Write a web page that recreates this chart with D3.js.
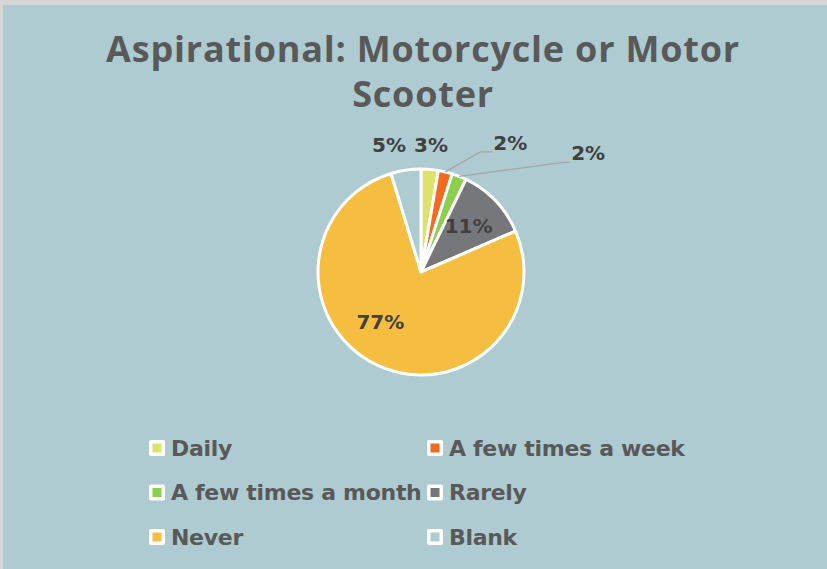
<!DOCTYPE html>
<html>
<head>
<meta charset="utf-8">
<script src="https://cdn.jsdelivr.net/npm/d3@7"></script>
<style>
  body { margin: 0; background: #d9d9d9; }
  svg { display: block; }
</style>
</head>
<body>
<svg id="chart"></svg>
<script>
// chart data
const categories = ['Daily', 'A few times a week', 'A few times a month', 'Rarely', 'Never', 'Blank'];
const shares = [2.7, 2.2, 2.3, 11.3, 76.8, 4.7];
const colors = ['#dde36a', '#f26b21', '#8ccf4d', '#76777b', '#f5be41', '#aecbd2'];
const titleLines = ['Aspirational: Motorcycle or Motor', 'Scooter'];

const W = 827, H = 569;
const bg = '#aecbd2';
const titleFont = '"Open Sans", Lato, sans-serif';
const font = '"DejaVu Sans", "Open Sans", sans-serif';

const svg = d3.select('#chart').attr('width', W).attr('height', H);

// tracking needed so a text spans a wanted width (the original font is wider)
function track(sel, want) {
  const node = sel.node();
  const n = node.getNumberOfChars();
  return (want - node.getComputedTextLength()) / (n - 1);
}

// frame: thin grey edge on top and left
svg.append('rect').attr('width', W).attr('height', H).attr('fill', '#d6d6d6');
svg.append('rect').attr('x', 3).attr('y', 5).attr('width', W).attr('height', H).attr('fill', bg);

// title
const title = svg.append('g')
  .attr('font-family', titleFont).attr('font-weight', 700).attr('font-size', 36)
  .attr('fill', '#595959')
  .attr('text-anchor', 'middle');
const t1 = title.append('text').attr('x', 423).attr('y', 62).text(titleLines[0]);
title.attr('letter-spacing', track(t1, 633));
title.append('text').attr('x', 423).attr('y', 107).text(titleLines[1]);

// pie
const cx = 421, cy = 272, r = 103;
const pie = d3.pie().sort(null).value(d => d.v);
const arc = d3.arc().innerRadius(0).outerRadius(r);
const data = categories.map((c, i) => ({ c: c, v: shares[i], col: colors[i] }));
const arcs = pie(data);

const g = svg.append('g').attr('transform', 'translate(' + cx + ',' + cy + ')');

g.selectAll('path')
  .data(arcs)
  .enter().append('path')
  .attr('d', arc)
  .attr('fill', d => d.data.col)
  .attr('stroke', '#fff')
  .attr('stroke-width', 3)
  .attr('stroke-linejoin', 'round');

// label placement (relative to pie centre / slice edge / centroid)
const place = {
  'Daily':               { mode: 'out', dx: 10, dy: -127 },
  'A few times a week':  { mode: 'lead', elbow: [35, -20], len: 12 },
  'A few times a month': { mode: 'lead', elbow: [104, -14], len: 7 },
  'Rarely':              { mode: 'in', k: 0.64, dx: 0, dy: 0 },
  'Never':               { mode: 'in', k: 0.64, dx: -13, dy: -10 },
  'Blank':               { mode: 'out', dx: -32, dy: -127 }
};

const pct = d => Math.round(d.data.v) + '%';
const edge = d => {
  const a = (d.startAngle + d.endAngle) / 2;
  return [r * Math.sin(a), -r * Math.cos(a)];
};

const labels = g.append('g')
  .attr('font-family', font).attr('font-weight', 700).attr('font-size', 20)
  .attr('fill', '#404040');

arcs.forEach(d => {
  const p = place[d.data.c];
  let x, y, anchor = 'middle';
  if (p.mode === 'in') {
    const c = d3.arc().innerRadius(0).outerRadius(r * p.k * 2).centroid(d);
    x = c[0] + p.dx; y = c[1] + p.dy;
  } else if (p.mode === 'out') {
    x = p.dx; y = p.dy;
  } else {
    const e = edge(d);
    const ex = e[0] + p.elbow[0], ey = e[1] + p.elbow[1];
    g.insert('polyline', 'g')
      .attr('points', [e, [ex, ey], [ex + p.len, ey]].map(q => q.join(',')).join(' '))
      .attr('fill', 'none')
      .attr('stroke', '#a6a6a6')
      .attr('stroke-width', 1.3);
    x = ex + p.len + 1; y = ey - 9; anchor = 'start';
  }
  labels.append('text')
    .attr('x', x).attr('y', y)
    .attr('dy', '0.35em')
    .attr('text-anchor', anchor)
    .text(pct(d));
});

// legend
const legX = [149, 427], legY = [448, 492.5, 537];
const leg = svg.selectAll('.leg')
  .data(data)
  .enter().append('g')
  .attr('class', 'leg')
  .attr('transform', (d, i) => 'translate(' + legX[i % 2] + ',' + legY[Math.floor(i / 2)] + ')');

leg.append('rect')
  .attr('x', 0).attr('y', -8).attr('width', 16).attr('height', 16)
  .attr('rx', 2)
  .attr('fill', '#fff');
leg.append('rect')
  .attr('x', 3.5).attr('y', -4.5).attr('width', 9).attr('height', 9)
  .attr('fill', d => d.col);
const legText = leg.append('text')
  .attr('x', 22).attr('y', 0)
  .attr('dy', '0.36em')
  .attr('font-family', font).attr('font-weight', 700).attr('font-size', 22)
  .attr('fill', '#595959')
  .text(d => d.c);
legText.attr('letter-spacing', track(legText.filter(d => d.c === 'A few times a week'), 236));
</script>
</body>
</html>
